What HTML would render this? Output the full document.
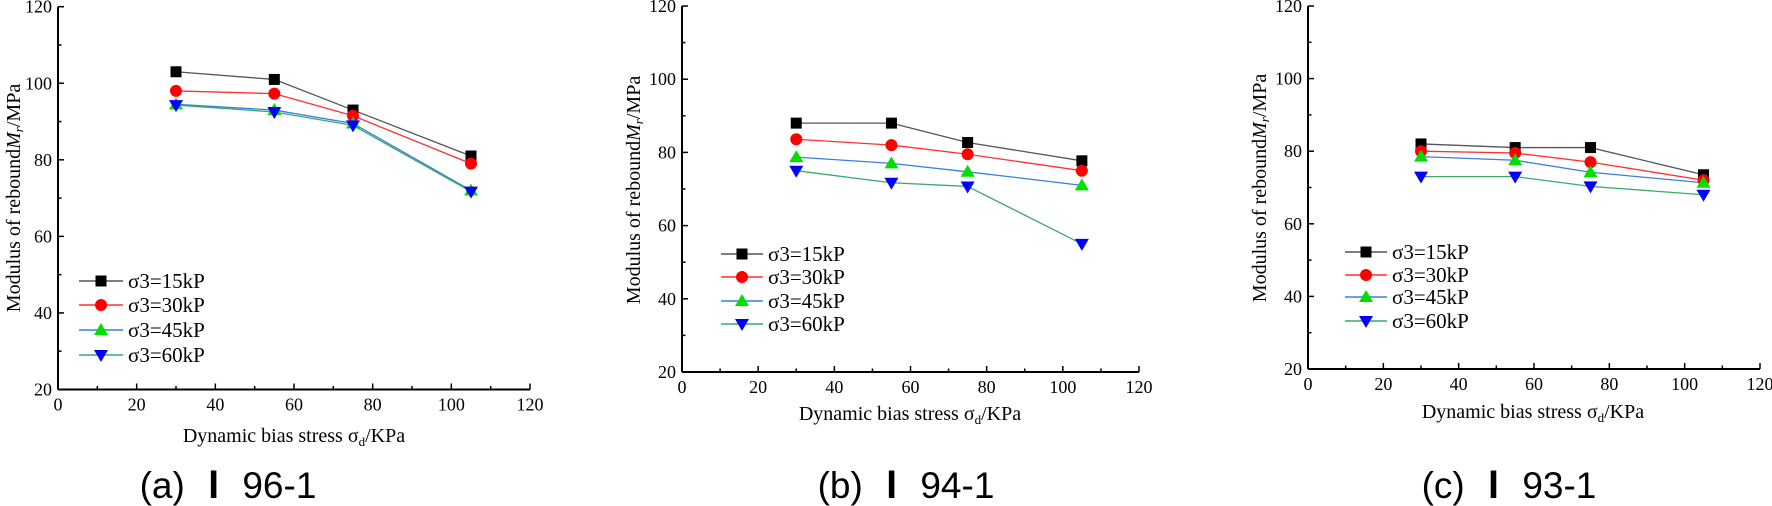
<!DOCTYPE html>
<html><head><meta charset="utf-8">
<style>
html,body{margin:0;padding:0;background:#fff;}
svg{display:block;}
text{font-family:"Liberation Serif",serif;fill:#000;}
.cap{font-family:"Liberation Sans","Noto Sans CJK SC",sans-serif;}
.ci{font-family:"Noto Sans CJK SC",sans-serif;font-weight:bold;}
</style></head>
<body>
<svg id="s" width="1772" height="506" viewBox="0 0 1772 506" xmlns="http://www.w3.org/2000/svg"></svg>
<script>
const S=document.getElementById('s');
let h='';
const panels=[
 {x0:58,x1:530,yT:6.7,yB:389.5,
  data:[[103,101,93,81],[98,97.3,91.5,79],[94.5,93,89.5,72],[94.3,92.5,89,71.7]],
  leg:{x:79,x2:123,ys:[281,305,330,355]},ytx:13,yty:198,xlx:294,xly:442,cap:{x:228,a:'(a)',b:'96-1'}},
 {x0:682,x1:1139,yT:6,yB:372,
  data:[[88,88,82.7,77.7],[83.6,82,79.5,75],[78.7,77,74.7,71],[75,71.7,70.7,55]],
  leg:{x:721,x2:763,ys:[254,277,301,324]},ytx:633,yty:190,xlx:910,xly:420,cap:{x:906,a:'(b)',b:'94-1'}},
 {x0:1308,x1:1760,yT:6,yB:369,
  data:[[82,81,81,73.5],[80,79.5,77,72],[78.5,77.5,74.2,71.3],[73,73,70.3,68]],
  leg:{x:1345,x2:1387,ys:[252,275,297,321]},ytx:1259,yty:188,xlx:1533,xly:418,cap:{x:1509,a:'(c)',b:'93-1'}}
];
const lineCol=['#555','#ff3030','#3a7fe0','#3aaa6a'];
const names=['σ3=15kP','σ3=30kP','σ3=45kP','σ3=60kP'];
const xs=[30,55,75,105];
function marker(i,cx,cy){
 if(i==0) return `<rect x="${cx-5.5}" y="${cy-5.5}" width="11" height="11" fill="#000"/>`;
 if(i==1) return `<circle cx="${cx}" cy="${cy}" r="6" fill="#ff0000"/>`;
 if(i==2) return `<polygon points="${cx},${cy-7} ${cx-7},${cy+5} ${cx+7},${cy+5}" fill="#00e000"/>`;
 return `<polygon points="${cx},${cy+7} ${cx-7},${cy-5} ${cx+7},${cy-5}" fill="#0000ff"/>`;
}
for(const p of panels){
 const X=v=>p.x0+(p.x1-p.x0)*v/120;
 const Y=v=>p.yB-(p.yB-p.yT)*(v-20)/100;
 h+=`<line x1="${p.x0}" y1="${p.yT}" x2="${p.x0}" y2="${p.yB}" stroke="#000" stroke-width="2"/>`;
 h+=`<line x1="${p.x0}" y1="${p.yB}" x2="${p.x1}" y2="${p.yB}" stroke="#000" stroke-width="2"/>`;
 for(let v=20;v<=120;v+=10){
  const y=Y(v),maj=v%20==0;
  h+=`<line x1="${p.x0}" y1="${y}" x2="${p.x0+(maj?6:3.5)}" y2="${y}" stroke="#000" stroke-width="1.5"/>`;
  if(maj) h+=`<text x="${p.x0-6}" y="${y+6}" font-size="18" text-anchor="end">${v}</text>`;
 }
 for(let v=0;v<=120;v+=10){
  const x=X(v),maj=v%20==0;
  h+=`<line x1="${x}" y1="${p.yB}" x2="${x}" y2="${p.yB-(maj?6:3.5)}" stroke="#000" stroke-width="1.5"/>`;
  if(maj) h+=`<text x="${x}" y="${p.yB+21}" font-size="18" text-anchor="middle">${v}</text>`;
 }
 for(let i=0;i<4;i++){
  const pts=xs.map((x,k)=>X(x)+','+Y(p.data[i][k])).join(' ');
  h+=`<polyline points="${pts}" fill="none" stroke="${lineCol[i]}" stroke-width="1.3"/>`;
 }
 for(let i=0;i<4;i++) xs.forEach((x,k)=>{h+=marker(i,X(x),Y(p.data[i][k]));});
 const L=p.leg;
 for(let i=0;i<4;i++){
  const y=L.ys[i],mx=(L.x+L.x2)/2;
  h+=`<line x1="${L.x}" y1="${y}" x2="${L.x2}" y2="${y}" stroke="${lineCol[i]}" stroke-width="1.5"/>`;
  h+=marker(i,mx,y);
  h+=`<text x="${L.x2+5}" y="${y+7}" font-size="21">${names[i]}</text>`;
 }
 h+=`<text transform="translate(${p.ytx+7},${p.yty}) rotate(-90)" font-size="20" text-anchor="middle">Modulus of rebound<tspan font-style="italic">M</tspan><tspan font-style="italic" font-size="13" dy="3">r</tspan><tspan dy="-3">/MPa</tspan></text>`;
 h+=`<text x="${p.xlx}" y="${p.xly}" font-size="20" text-anchor="middle">Dynamic bias stress σ<tspan font-size="13" dy="4">d</tspan><tspan dy="-4">/KPa</tspan></text>`;
 h+=`<text class="cap" x="${p.cap.x}" y="498" font-size="37" text-anchor="middle">${p.cap.a} <tspan class="ci">Ⅰ</tspan> ${p.cap.b}</text>`;
}
S.innerHTML=h;
</script>
</body></html>
